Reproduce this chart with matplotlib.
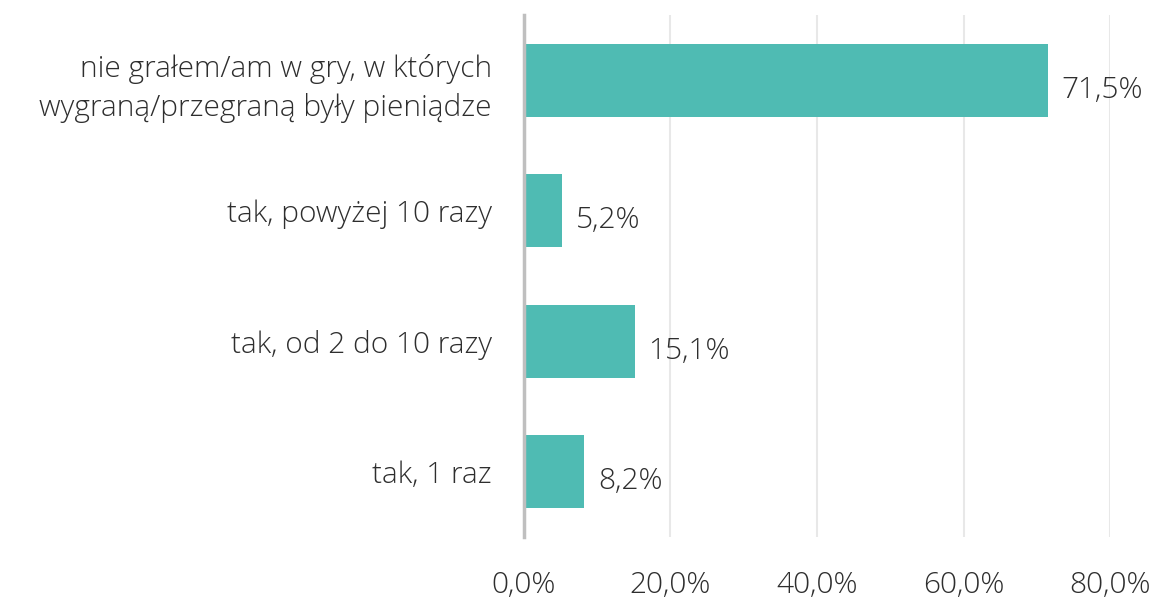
import matplotlib
matplotlib.use("Agg")
import matplotlib.pyplot as plt
from matplotlib.ticker import FuncFormatter

categories = ["nie grałem/am w gry, w których\nwygraną/przegraną były pieniądze",
              "tak, powyżej 10 razy",
              "tak, od 2 do 10 razy",
              "tak, 1 raz"]
values = [71.5, 5.2, 15.1, 8.2]
xticks = [0, 20, 40, 60, 80]

plt.rcParams['font.family'] = ['Open Sans', 'DejaVu Sans']
txt = '#2E2E2E'
fs = 21.5

fig = plt.figure(figsize=(11.54, 6.01), dpi=100)
ax = fig.add_axes([0.454, 0.1065, 0.508, 0.8685])

pos = list(range(len(categories)))
ax.barh(pos, values, height=0.557, color='#4FBBB3', zorder=2)
ax.set_ylim(3.5, -0.5)
ax.set_xlim(0, 80)
ax.set_xticks(xticks)
ax.xaxis.set_major_formatter(FuncFormatter(lambda v, p: f"{v:.1f}%".replace('.', ',')))
ax.set_yticks(pos)
ax.set_yticklabels(categories, fontsize=fs, color=txt, fontweight='light', linespacing=1.4)
for lab in ax.get_xticklabels():
    lab.set_fontsize(fs); lab.set_color(txt); lab.set_fontweight('light')
ax.tick_params(axis='y', length=0, pad=23)
ax.tick_params(axis='x', length=0, pad=24)
ax.grid(axis='x', color='#E8E8E8', linewidth=1.5, zorder=3)
for s in ['top', 'right', 'bottom']:
    ax.spines[s].set_visible(False)
ax.spines['left'].set_color('#BFBFBF')
ax.spines['left'].set_linewidth(2.5)
ax.spines['left'].set_zorder(4)

for p, v in zip(pos, values):
    ax.annotate(f"{v:.1f}%".replace('.', ','), (v, p), xytext=(10, -7), textcoords='offset points',
                va='center', ha='left', fontsize=fs, color=txt, fontweight='light')

fig.savefig('out.png', dpi=100)
